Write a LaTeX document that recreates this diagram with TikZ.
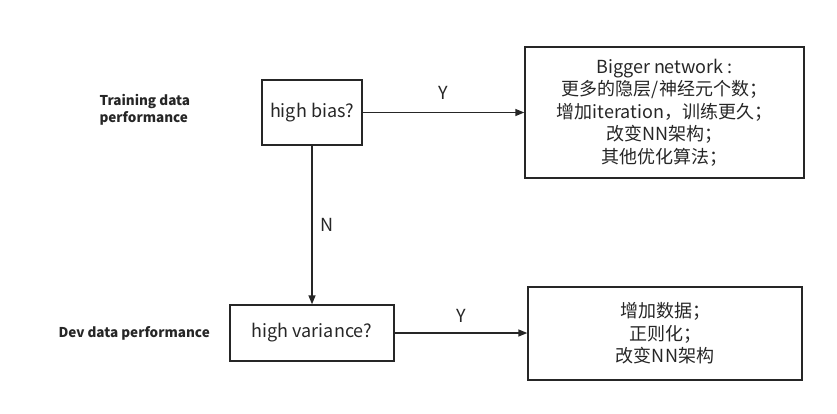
\documentclass[tikz,border=0pt]{standalone}
\usepackage{fontspec}
\setmainfont{Noto Sans CJK SC}
\usetikzlibrary{arrows.meta}
\definecolor{ink}{HTML}{262626}
\begin{document}
\begin{tikzpicture}[x=1pt,y=-1pt,
  box/.style={draw=ink,line width=1.4pt,text=ink,inner sep=0pt,font=\fontsize{18}{22.5}\selectfont,align=center},
  side/.style={text=ink,font=\fontsize{13.5}{16.5}\selectfont\bfseries,align=left},
  lab/.style={text=ink,font=\fontsize{18}{20}\selectfont},
  arr/.style={draw=ink,line width=1.4pt,-{Triangle[length=9pt,width=7pt]}}]
\useasboundingbox (0,0) rectangle (837,413);
\node[box,minimum width=100pt,minimum height=65pt] (bias) at (312,112.5) {high bias?};
\node[box,minimum width=279pt,minimum height=131pt] (big) at (664.5,112.5)
  {Bigger network :\\更多的隐层/神经元个数；\\增加iteration，训练更久；\\改变NN架构；\\其他优化算法；};
\node[box,minimum width=164pt,minimum height=56pt] (var) at (312,333) {high variance?};
\node[box,minimum width=274pt,minimum height=93pt] (data) at (665,333.5)
  {增加数据；\\正则化；\\改变NN架构};
\node[side,anchor=west] (tl) at (96,110) {Training data\\performance};
\node[side,anchor=west] (dl) at (55,333) {Dev data performance};
\draw[arr] (bias.east) -- (big.west |- bias.east) node[lab,midway,above=9pt] (y1) {Y};
\draw[arr] (bias.south) -- (var.north) node[lab,midway,right=4pt] (n1) {N};
\draw[arr] (var.east) -- (data.west |- var.east) node[lab,midway,above=6pt] (y2) {Y};
\end{tikzpicture}
\end{document}
